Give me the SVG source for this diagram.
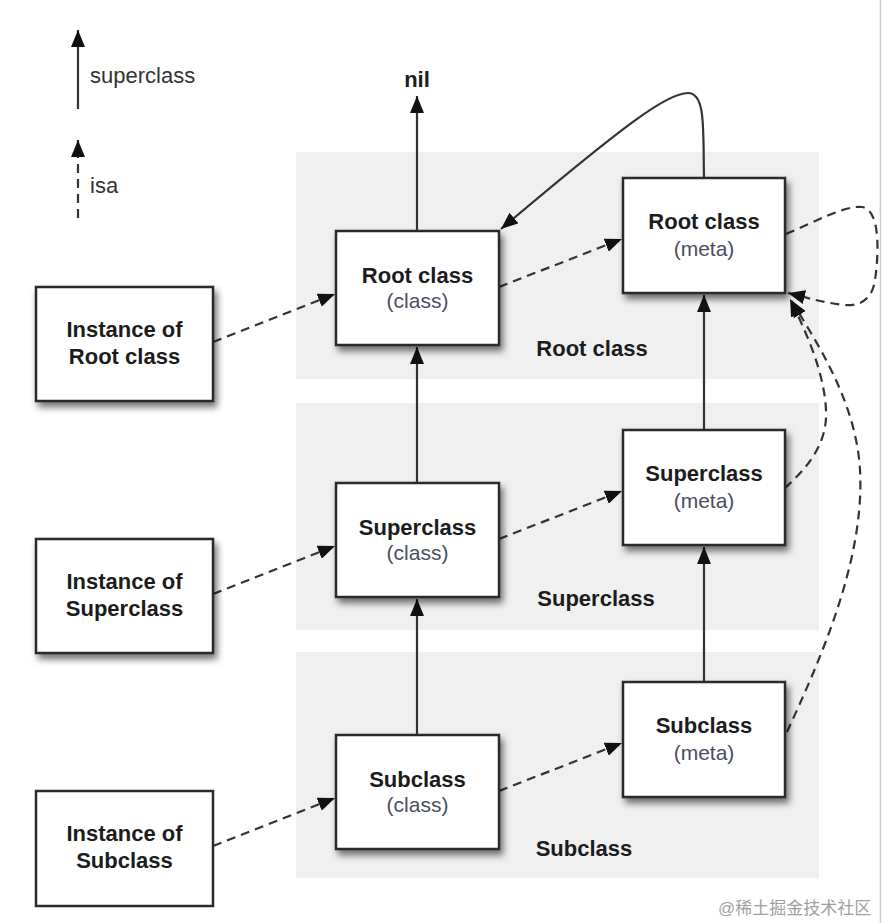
<svg xmlns="http://www.w3.org/2000/svg" width="885" height="923" viewBox="0 0 885 923">
<style>
.band{fill:#f0f0f0}
.box{fill:#fff;stroke:#2b2b2b;stroke-width:2.5}
.b{font-family:"Liberation Sans",Arial,sans-serif;font-weight:bold;font-size:22px;fill:#1c1c1c;text-anchor:middle}
.r{font-family:"Liberation Sans",Arial,sans-serif;font-size:21px;fill:#4a4e5e;text-anchor:middle}
.lg{font-family:"Liberation Sans",Arial,sans-serif;font-size:22px;fill:#333;text-anchor:start}
.sup{fill:none;stroke:#333;stroke-width:2.2}
.isa{fill:none;stroke:#333;stroke-width:2.2;stroke-dasharray:9 6}
.wm{font-family:"Liberation Sans","Noto Sans CJK SC",sans-serif;font-size:17px;fill:#a0a0a0}
</style>
<defs>
<filter id="sh" x="-20%" y="-20%" width="150%" height="150%">
<feDropShadow dx="3" dy="5" stdDeviation="3.5" flood-color="#000" flood-opacity="0.55"/>
</filter>
<marker id="ah" markerWidth="18" markerHeight="14" refX="17" refY="7" orient="auto" markerUnits="userSpaceOnUse">
<path d="M0,0 L17,7 L0,14 z" fill="#111"/>
</marker>
</defs>
<rect width="885" height="923" fill="#fff"/>
<line x1="880.5" y1="0" x2="880.5" y2="923" stroke="#cfcfcf" stroke-width="1.5"/>

<g id="bands">
<rect class="band" x="296" y="152" width="523" height="227"/>
<rect class="band" x="296" y="403" width="523" height="227"/>
<rect class="band" x="296" y="652" width="523" height="226"/>
<text class="b" x="592" y="356">Root class</text>
<text class="b" x="596" y="606">Superclass</text>
<text class="b" x="584" y="856">Subclass</text>
</g>

<g id="legend">
<line class="sup" x1="78" y1="109" x2="78" y2="30" marker-end="url(#ah)"/>
<text class="lg" x="90" y="83">superclass</text>
<line class="isa" x1="78" y1="218" x2="78" y2="140" marker-end="url(#ah)"/>
<text class="lg" x="90" y="193">isa</text>
</g>

<g id="nil"><text class="b" x="417" y="87">nil</text></g>

<g id="connectors">
<line class="sup" x1="417" y1="231" x2="417" y2="96" marker-end="url(#ah)"/>
<line class="sup" x1="417" y1="483" x2="417" y2="347" marker-end="url(#ah)"/>
<line class="sup" x1="417" y1="735" x2="417" y2="599" marker-end="url(#ah)"/>
<line class="sup" x1="704" y1="430" x2="704" y2="295" marker-end="url(#ah)"/>
<line class="sup" x1="704" y1="682" x2="704" y2="547" marker-end="url(#ah)"/>
<path class="sup" d="M704,178 C703,130 706,93 688,93 C668,93 630,120 501,229" marker-end="url(#ah)"/>
<path class="isa" d="M213,342 L335,294" marker-end="url(#ah)"/>
<path class="isa" d="M213,594 L335,546" marker-end="url(#ah)"/>
<path class="isa" d="M213,846 L335,798" marker-end="url(#ah)"/>
<path class="isa" d="M499,287 L622,239" marker-end="url(#ah)"/>
<path class="isa" d="M499,539 L622,491" marker-end="url(#ah)"/>
<path class="isa" d="M499,791 L622,743" marker-end="url(#ah)"/>
<path class="isa" d="M786,234 C815,222 845,205 862,207 C882,210 878,260 875,280 C872,300 860,306 845,305 C825,303 808,298 788,293" marker-end="url(#ah)"/>
<path class="isa" d="M785,488 C805,470 828,445 826,410 C824,370 805,330 790,299" marker-end="url(#ah)"/>
<path class="isa" d="M787,732 C820,660 865,560 860,470 C856,400 815,340 791,300" marker-end="url(#ah)"/>
</g>

<g id="inst-root">
<rect class="box" x="36" y="287" width="177" height="114" filter="url(#sh)"/>
<text class="b" x="124.5" y="337">Instance of</text>
<text class="b" x="124.5" y="364">Root class</text>
</g>
<g id="inst-super">
<rect class="box" x="36" y="539" width="177" height="114" filter="url(#sh)"/>
<text class="b" x="124.5" y="589">Instance of</text>
<text class="b" x="124.5" y="616">Superclass</text>
</g>
<g id="inst-sub">
<rect class="box" x="36" y="791" width="177" height="115"/>
<text class="b" x="124.5" y="841">Instance of</text>
<text class="b" x="124.5" y="868">Subclass</text>
</g>

<g id="root-class">
<rect class="box" x="336" y="231" width="163" height="114" filter="url(#sh)"/>
<text class="b" x="417.5" y="283">Root class</text>
<text class="r" x="417.5" y="308">(class)</text>
</g>
<g id="super-class">
<rect class="box" x="336" y="483" width="163" height="114" filter="url(#sh)"/>
<text class="b" x="417.5" y="535">Superclass</text>
<text class="r" x="417.5" y="560">(class)</text>
</g>
<g id="sub-class">
<rect class="box" x="336" y="735" width="163" height="114" filter="url(#sh)"/>
<text class="b" x="417.5" y="787">Subclass</text>
<text class="r" x="417.5" y="812">(class)</text>
</g>

<g id="root-meta">
<rect class="box" x="623" y="178" width="162" height="115" filter="url(#sh)"/>
<text class="b" x="704" y="229">Root class</text>
<text class="r" x="704" y="256">(meta)</text>
</g>
<g id="super-meta">
<rect class="box" x="623" y="430" width="162" height="115" filter="url(#sh)"/>
<text class="b" x="704" y="481">Superclass</text>
<text class="r" x="704" y="508">(meta)</text>
</g>
<g id="sub-meta">
<rect class="box" x="623" y="682" width="162" height="115" filter="url(#sh)"/>
<text class="b" x="704" y="733">Subclass</text>
<text class="r" x="704" y="760">(meta)</text>
</g>

<text class="wm" x="718" y="914">@稀土掘金技术社区</text>
</svg>
